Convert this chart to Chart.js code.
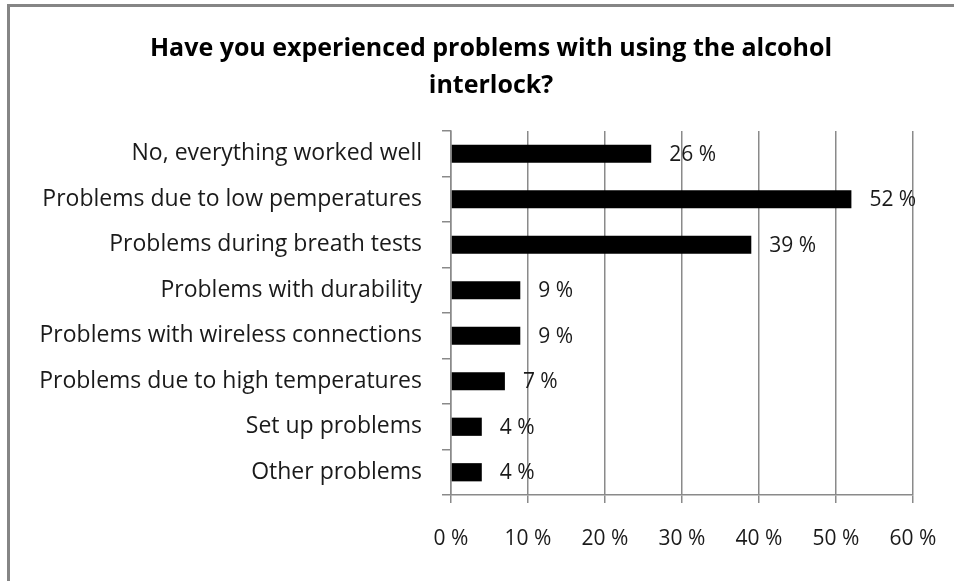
<!DOCTYPE html>
<html>
<head>
<meta charset="utf-8">
<script src="https://cdn.jsdelivr.net/npm/chart.js@4"></script>
<style>
  html, body { margin: 0; padding: 0; background: #fff; }
  #wrap { position: relative; width: 954px; height: 581px; overflow: hidden; }
  #frame {
    position: absolute; left: 7px; top: 4px; right: -10px; bottom: -10px;
    border-top: 3px solid #858585; border-left: 3px solid #858585;
    pointer-events: none;
  }
  canvas { position: absolute; left: 0; top: 0; }
</style>
</head>
<body>
<div id="wrap">
  <canvas id="chart" width="954" height="581"></canvas>
  <div id="frame"></div>
</div>
<script>
// survey answers, top to bottom
const categories = [
  'No, everything worked well',
  'Problems due to low pemperatures',
  'Problems during breath tests',
  'Problems with durability',
  'Problems with wireless connections',
  'Problems due to high temperatures',
  'Set up problems',
  'Other problems'
];
const shares = [26, 52, 39, 9, 9, 7, 4, 4];
const tickValues = [0, 10, 20, 30, 40, 50, 60];
const titleLines = ['Have you experienced problems with using the alcohol', 'interlock?'];

const FONT = '"Open Sans", Lato, sans-serif';
const GRID = '#8a8a8a';

// title + value labels drawn on top of the chart
const extras = {
  id: 'extras',
  afterDraw(chart) {
    const { ctx } = chart;
    ctx.save();
    ctx.fillStyle = '#000';
    ctx.textAlign = 'center';
    ctx.textBaseline = 'middle';
    ctx.font = 'bold 25px ' + FONT;
    ctx.fillText(titleLines[0], 491, 49);
    ctx.fillText(titleLines[1], 491, 86);

    const meta = chart.getDatasetMeta(0);
    ctx.font = '21px ' + FONT;
    ctx.fillStyle = '#1a1a1a';
    ctx.textAlign = 'left';
    meta.data.forEach((bar, i) => {
      ctx.fillText(shares[i] + ' %', bar.x + 18, bar.y + 1);
    });
    ctx.restore();
  }
};

new Chart(document.getElementById('chart'), {
  type: 'bar',
  data: {
    labels: categories,
    datasets: [{
      data: shares,
      backgroundColor: '#000',
      borderWidth: 0,
      barPercentage: 0.8,
      categoryPercentage: 0.5
    }]
  },
  options: {
    indexAxis: 'y',
    responsive: false,
    animation: false,
    layout: { padding: { top: 131, right: 41, left: 0, bottom: 0 } },
    plugins: { legend: { display: false }, tooltip: { enabled: false }, title: { display: false } },
    scales: {
      x: {
        min: 0, max: 60,
        afterFit(s) {
          s.height = 86;
          // keep the plot edge fixed regardless of the last tick label width
          s.paddingLeft = 0;
          s.paddingRight = 0;
        },
        afterBuildTicks(s) { s.ticks = tickValues.map(v => ({ value: v })); },
        grid: { color: GRID, lineWidth: 1.5, tickLength: 8, drawTicks: true },
        border: { color: GRID, width: 1.5 },
        ticks: {
          padding: 23,
          color: '#1a1a1a',
          font: { family: FONT, size: 21 },
          callback: v => v + ' %'
        }
      },
      y: {
        afterFit(s) { s.width = 451; s.paddingTop = 0; s.paddingBottom = 0; },
        grid: { offset: true, drawOnChartArea: false, color: GRID, lineWidth: 1.5, tickLength: 9 },
        border: { color: GRID, width: 1.5 },
        ticks: {
          padding: 20,
          color: '#1a1a1a',
          font: { family: FONT, size: 23 }
        }
      }
    }
  },
  plugins: [extras]
});
</script>
</body>
</html>
